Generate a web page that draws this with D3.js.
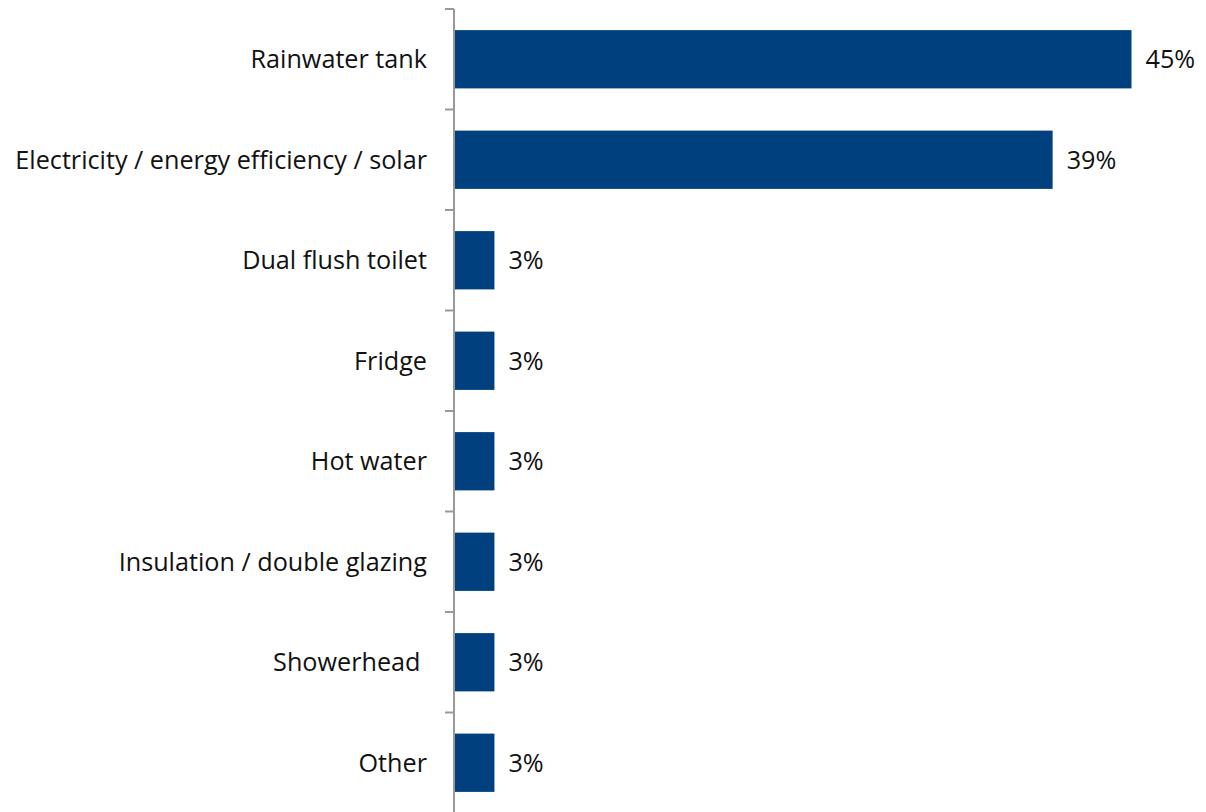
<!DOCTYPE html>
<html><head><meta charset="utf-8">
<script src="https://cdn.jsdelivr.net/npm/d3@7"></script>
<style>body{margin:0;background:#fff}svg{display:block}text{font-family:"Open Sans",sans-serif;white-space:pre}</style>
</head><body><svg id="c" width="1206" height="812"></svg>
<script>
const categories = ["Rainwater tank","Electricity / energy efficiency / solar","Dual flush toilet","Fridge","Hot water","Insulation / double glazing","Showerhead ","Other"];
const values = [44.6, 39.4, 2.6, 2.6, 2.6, 2.6, 2.6, 2.6];
const valueLabels = ["45%","39%","3%","3%","3%","3%","3%","3%"];

const svg = d3.select("#c");
const x0 = 455;
const x = d3.scaleLinear().domain([0, 44.6]).range([x0, 1131.5]);
const y = d3.scaleBand().domain(categories).range([9, 813]).paddingInner(0.42).paddingOuter(0.21);
const fs = 25.2;

svg.selectAll("rect.bar").data(categories).join("rect")
  .attr("class","bar")
  .attr("x", x(0))
  .attr("y", d => y(d))
  .attr("width", (d,i) => x(values[i]) - x(0))
  .attr("height", y.bandwidth())
  .attr("fill", "#00407F");

svg.selectAll("text.val").data(categories).join("text")
  .attr("class","val")
  .attr("x", (d,i) => x(values[i]) + 14)
  .attr("y", d => y(d) + y.bandwidth()/2)
  .attr("dy", "0.36em")
  .attr("font-size", fs)
  .attr("fill", "#111")
  .text((d,i) => valueLabels[i]);

const g = svg.append("g").attr("transform", `translate(${x0-1},0)`);
g.append("line").attr("x1",0).attr("x2",0).attr("y1",9).attr("y2",813).attr("stroke","#999").attr("stroke-width",2);
const tickYs = d3.range(categories.length + 1).map(i => 9 + i * (804 / categories.length));
g.selectAll("line.tick").data(tickYs).join("line")
  .attr("class","tick").attr("x1",-9).attr("x2",0)
  .attr("y1", d => d).attr("y2", d => d)
  .attr("stroke","#999").attr("stroke-width",2);

svg.selectAll("text.cat").data(categories).join("text")
  .attr("class","cat")
  .attr("x", x0 - 28)
  .attr("y", d => y(d) + y.bandwidth()/2)
  .attr("dy", "0.36em")
  .attr("text-anchor","end")
  .attr("font-size", fs)
  .attr("fill", "#111")
  .text(d => d);
</script></body></html>
